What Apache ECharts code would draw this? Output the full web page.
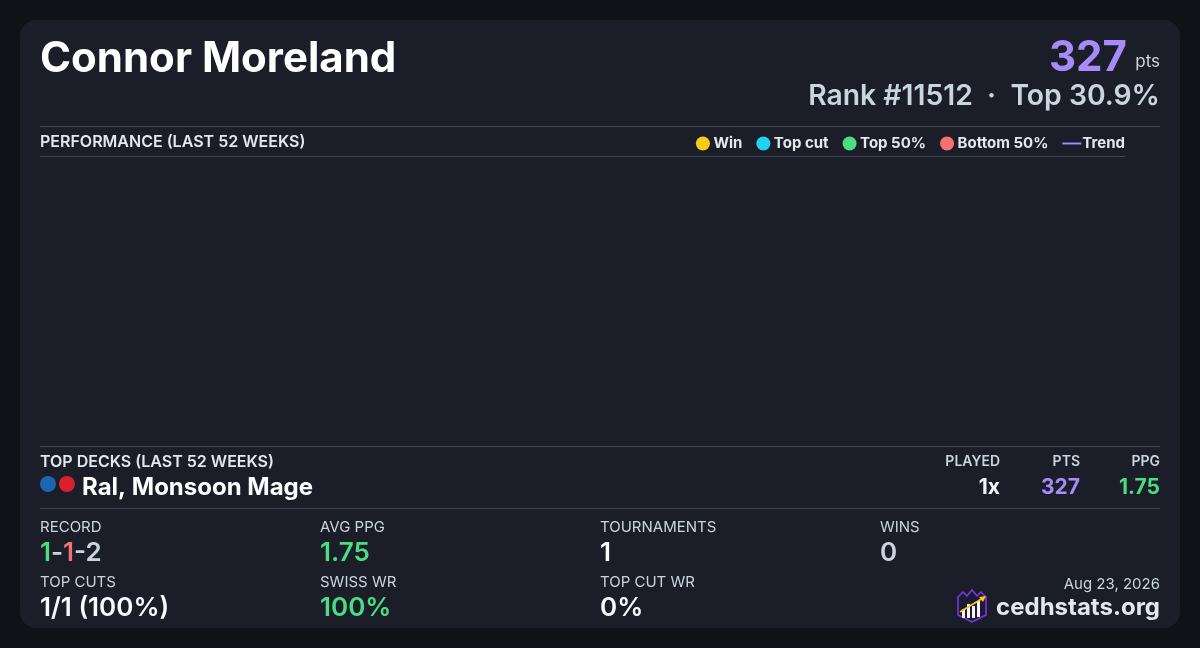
<!DOCTYPE html>
<html><head><meta charset="utf-8">
<script src="https://cdn.jsdelivr.net/npm/echarts@6/dist/echarts.min.js"></script>
<style>html,body{margin:0;padding:0;background:#111217;}#c{width:1200px;height:648px;}</style>
</head><body><div id="c"></div>
<script>
// ---- data ----
const playerName = 'Connor Moreland';
const totalPts = '327';
const rankText = 'Rank #11512  ·  Top 30.9%';
const legendNames = ['Win', 'Top cut', 'Top 50%', 'Bottom 50%', 'Trend'];
const legendColors = ['#facc15', '#22d3ee', '#4ade80', '#f87171', '#a78bfa'];
const weeks = [];            // no results plotted in the last 52 weeks
const winPts = [];
const topCutPts = [];
const top50Pts = [];
const bottom50Pts = [];
const trendPts = [];
const deckName = 'Ral, Monsoon Mage';
const deckColors = ['#1a67b0', '#d9202e'];
const deckCols = ['PLAYED', 'PTS', 'PPG'];
const deckVals = ['1x', '327', '1.75'];
const statLabels = ['RECORD', 'AVG PPG', 'TOURNAMENTS', 'WINS', 'TOP CUTS', 'SWISS WR', 'TOP CUT WR'];
const statValues = ['1-1-2', '1.75', '1', '0', '1/1 (100%)', '100%', '0%'];
const dateText = 'Aug 23, 2026';
const siteText = 'cedhstats.org';

const F = 'Inter, "Noto Sans", sans-serif';
const chart = echarts.init(document.getElementById('c'));
const g = [];
const txt = (x, y, text, font, fill, align, extra) => g.push(Object.assign({
  type: 'text', z: 10, style: Object.assign({ x, y, text, font, fill, textAlign: align || 'left', textVerticalAlign: 'middle' }, extra || {})
}));
const hline = (y, x1, x2) => g.push({ type: 'line', z: 5, shape: { x1, y1: y, x2, y2: y }, style: { stroke: '#3d4558', lineWidth: 1 } });

g.push({ type: 'rect', z: 0, shape: { x: 20, y: 20, width: 1160, height: 608, r: 16 }, style: { fill: '#1b1d29' } });

// header
txt(40, 59, playerName, '700 42px ' + F, '#ffffff');
txt(1127, 58, totalPts, '700 42px ' + F, '#a78bfa', 'right');
txt(1160, 62, 'pts', '400 17px ' + F, '#cbd5e1', 'right');
txt(1160, 96, rankText, '600 28.3px ' + F, '#cbd5e1', 'right');
hline(126.5, 40, 1160);
txt(40, 142, 'PERFORMANCE (LAST 52 WEEKS)', '600 16px ' + F, '#e2e8f0');
hline(156.5, 40, 1125);
hline(446.5, 40, 1160);

// decks
txt(40, 462, 'TOP DECKS (LAST 52 WEEKS)', '600 16px ' + F, '#e2e8f0');
deckColors.forEach((c, i) => g.push({ type: 'circle', z: 10, shape: { cx: 48 + i * 19, cy: 484, r: 8 }, style: { fill: c } }));
txt(82, 488, deckName, '700 24px ' + F, '#ffffff');
const colX = [1000, 1080, 1160];
const valCol = ['#f1f5f9', '#a78bfa', '#4ade80'];
deckCols.forEach((c, i) => {
  txt(colX[i], 462, c, '600 14px ' + F, '#cbd5e1', 'right');
  txt(colX[i], 488, deckVals[i], '700 21px ' + F, valCol[i], 'right');
});
hline(508.5, 40, 1160);

// stats
const sx = [40, 320, 600, 880, 40, 320, 600];
const sy = [527, 527, 527, 527, 582, 582, 582];
const vCol = [null, '#4ade80', '#f8fafc', '#cbd5e1', '#f8fafc', '#4ade80', '#f8fafc'];
statLabels.forEach((l, i) => {
  txt(sx[i], sy[i], l, '400 15px ' + F, '#cbd5e1');
  if (i === 0) {
    const p = statValues[0].split('-');
    g.push({ type: 'text', z: 10, style: {
      x: sx[i], y: sy[i] + 26, textVerticalAlign: 'middle',
      text: '{g|' + p[0] + '}{d|-}{r|' + p[1] + '}{d|-' + p[2] + '}',
      font: '600 26px ' + F,
      rich: { g: { fill: '#4ade80', font: '600 26px ' + F }, r: { fill: '#f87171', font: '600 26px ' + F }, d: { fill: '#cbd5e1', font: '600 26px ' + F } }
    } });
  } else {
    txt(sx[i], sy[i] + 26, statValues[i], '600 26px ' + F, vCol[i]);
  }
});
txt(1160, 584, dateText, '400 15px ' + F, '#cbd5e1', 'right');
txt(1160, 608, siteText, '700 24px ' + F, '#e2e8f0', 'right');

// logo
g.push({ type: 'polygon', z: 10, shape: { points: [[958, 597], [963, 592], [967, 596], [972, 590], [977, 596], [981, 592], [986, 597], [986, 615], [972, 622], [958, 615]] },
  style: { fill: '#1e1a33', stroke: '#7c3aed', lineWidth: 1.5 } });
[[962, 609, 9], [967, 604, 14], [972, 606, 12], [977, 601, 16]].forEach(b =>
  g.push({ type: 'rect', z: 11, shape: { x: b[0], y: b[1], width: 3, height: b[2] }, style: { fill: '#f1f5f9' } }));
g.push({ type: 'line', z: 12, shape: { x1: 960, y1: 612, x2: 983, y2: 598 }, style: { stroke: '#facc15', lineWidth: 1.6 } });
g.push({ type: 'polygon', z: 12, shape: { points: [[986, 596], [979, 597], [983, 602]] }, style: { fill: '#facc15' } });

const mk = (name, color, data) => ({ name, type: 'scatter', data, itemStyle: { color, opacity: 1 }, symbolSize: 8 });
chart.setOption({
  backgroundColor: '#111217',
  animation: false,
  grid: { left: 40, right: 75, top: 165, bottom: 210 },
  xAxis: { type: 'category', data: weeks, show: false },
  yAxis: { type: 'value', show: false },
  legend: {
    right: 75, top: 136, padding: 0, itemWidth: 19, itemHeight: 14, itemGap: 14,
    textStyle: { color: '#e2e8f0', fontFamily: F, fontSize: 15, fontWeight: 700, padding: [0, 0, 0, -4] },
    data: legendNames.slice(0, 4).map(n => ({ name: n, icon: 'circle', itemStyle: { opacity: 1 } })).concat([{ name: 'Trend', icon: 'path://M0,0L20,0L20,2L0,2Z' }])
  },
  series: [
    mk('Win', legendColors[0], winPts),
    mk('Top cut', legendColors[1], topCutPts),
    mk('Top 50%', legendColors[2], top50Pts),
    mk('Bottom 50%', legendColors[3], bottom50Pts),
    { name: 'Trend', type: 'line', data: trendPts, symbol: 'none', lineStyle: { color: legendColors[4], width: 2 }, itemStyle: { color: legendColors[4] } }
  ],
  graphic: g
});
</script></body></html>
